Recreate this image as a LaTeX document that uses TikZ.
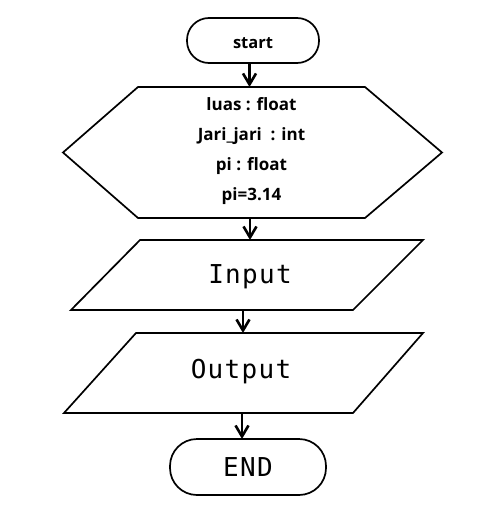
\documentclass[tikz,border=0pt]{standalone}
\usepackage{fontspec}
\newfontfamily\labelfont{Open Sans}
\newfontfamily\codefont[LetterSpace=5]{DejaVu Sans Mono}
\usetikzlibrary{arrows.meta}
\begin{document}
\begin{tikzpicture}[x=1pt,y=-1pt,
  box/.style={draw=black,line width=1.7pt},
  plain/.style={inner sep=0pt,outer sep=0pt},
  arr/.style={line width=2.2pt,-{Straight Barb[length=11pt,width=13pt,line width=2.6pt]}},
  term/.style={box,rounded corners=22pt,inner sep=0pt,outer sep=0pt},
  decl/.style={plain,font=\labelfont\bfseries\fontsize{17}{30}\selectfont,align=center},
  code/.style={plain,font=\codefont\fontsize{26}{28}\selectfont}]
\useasboundingbox (0,0) rectangle (492,508);
% start
\node[term,minimum width=132pt,minimum height=45pt,text height=16pt,text depth=0pt,font=\labelfont\bfseries\fontsize{16.5}{17}\selectfont] (start) at (253,40.5) {start};
% hexagon
\node[plain,minimum width=227pt,minimum height=131pt] (hex) at (251.5,152.5) {};
\node[decl] (hextext) at (251.5,151) {luas : float\\Jari\_jari\ \ : int\\pi : float\\pi=3.14};
\draw[box,line join=miter] (hex.north west) -- (hex.north east) -- ([xshift=77pt]hex.east) -- (hex.south east) -- (hex.south west) -- ([xshift=-75pt]hex.west) -- cycle;
% input
\node[plain,minimum width=213pt,minimum height=70pt] (inp) at (246.5,275) {};
\node[code] (inptext) at (250,277) {Input};
\draw[box] (inp.north west) -- ([xshift=70pt]inp.north east) -- (inp.south east) -- ([xshift=-69pt]inp.south west) -- cycle;
% output
\node[plain,minimum width=217pt,minimum height=80pt] (out) at (244.5,373) {};
\node[code] (outtext) at (241,372) {Output};
\draw[box] (out.north west) -- ([xshift=70pt]out.north east) -- (out.south east) -- ([xshift=-72pt]out.south west) -- cycle;
% end
\node[term,minimum width=156pt,minimum height=56pt,rounded corners=27pt,font=\codefont\fontsize{26}{28}\selectfont] (endn) at (248,467) {END};
% arrows
\draw[arr] (start.south -| 249.5,0) -- (hex.north -| 249.5,0);
\draw[arr] (hex.south -| 250,0) -- (inp.north -| 250,0);
\draw[arr] (inp.south -| 243,0) -- (out.north -| 243,0);
\draw[arr] (out.south -| 242,0) -- (endn.north -| 242,0);
\end{tikzpicture}
\end{document}
